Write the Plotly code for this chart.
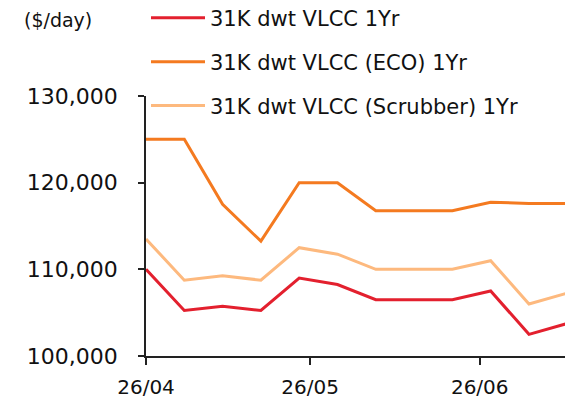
import plotly.graph_objects as go

dates = ["2024-04-26", "2024-05-03", "2024-05-10", "2024-05-17", "2024-05-24", "2024-05-31",
         "2024-06-07", "2024-06-14", "2024-06-21", "2024-06-28", "2024-07-05", "2024-07-12"]
vlcc_1yr = [110000, 105250, 105750, 105250, 109000, 108250,
            106500, 106500, 106500, 107500, 102500, 103750]
vlcc_eco = [125000, 125000, 117500, 113250, 120000, 120000,
            116750, 116750, 116750, 117750, 117600, 117600]
vlcc_scrubber = [113500, 108750, 109250, 108750, 112500, 111750,
                 110000, 110000, 110000, 111000, 106000, 107250]

RED = "#e3202e"
ORANGE = "#f47a20"
LIGHT = "#fdb97e"
FONT = "DejaVu Sans"

fig = go.Figure()
for name, ys, color in (("31K dwt VLCC 1Yr", vlcc_1yr, RED),
                        ("31K dwt VLCC (ECO) 1Yr", vlcc_eco, ORANGE),
                        ("31K dwt VLCC (Scrubber) 1Yr", vlcc_scrubber, LIGHT)):
    fig.add_trace(go.Scatter(x=dates, y=ys, mode="lines", name=name, legendgroup=name,
                             line=dict(color=color, width=3)))

# page body adds an 8px offset, so margins are trimmed by 8 on the left/top
fig.update_layout(
    width=573, height=401,
    paper_bgcolor="white", plot_bgcolor="white",
    margin=dict(l=138, r=11, t=88, b=53, autoexpand=False),
    font=dict(family=FONT, size=19, color="#111111"),
    showlegend=True,
    legend=dict(x=0.0, y=1.378, xanchor="left", yanchor="top",
                bgcolor="rgba(0,0,0,0)",
                font=dict(size=21), itemwidth=54, tracegroupgap=13.5,
                traceorder="grouped"),
    xaxis=dict(range=["2024-04-26", "2024-07-12 12:00"], tick0="2024-04-26", dtick="M1",
               tickformat="%d/%m", showgrid=False, zeroline=False,
               showline=True, linecolor="#222222", linewidth=1.5,
               ticks="outside", ticklen=7, tickwidth=1.5, tickcolor="#222222",
               tickfont=dict(size=20), ticklabelstandoff=5, automargin=False),
    yaxis=dict(range=[100000, 130000], tickvals=[100000, 110000, 120000, 130000],
               tickformat=",d", showgrid=False, zeroline=False,
               showline=True, linecolor="#222222", linewidth=1.5,
               ticks="outside", ticklen=6, tickwidth=1.5, tickcolor="#222222",
               tickfont=dict(size=22), ticklabelstandoff=16, automargin=False),
    annotations=[dict(text="($/day)", xref="paper", yref="paper", x=-0.292, y=1.293,
                      xanchor="left", yanchor="middle", showarrow=False,
                      font=dict(size=19))],
)

fig.write_html("out.html")
